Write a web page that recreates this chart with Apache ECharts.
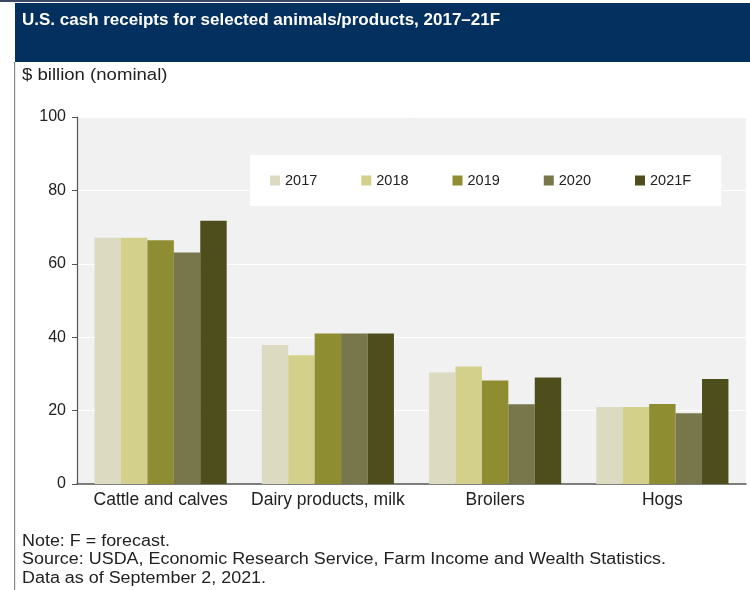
<!DOCTYPE html>
<html>
<head>
<meta charset="utf-8">
<script src="https://cdn.jsdelivr.net/npm/echarts@6/dist/echarts.min.js"></script>
<style>
  html, body { margin: 0; padding: 0; background: #fff; }
  #chart { width: 750px; height: 590px; }
</style>
</head>
<body>
<div id="chart"></div>
<script>
// Categories along the x axis
const categories = ['Cattle and calves', 'Dairy products, milk', 'Broilers', 'Hogs'];

// Cash receipts, $ billion (nominal), one array per year
const years = ['2017', '2018', '2019', '2020', '2021F'];
const v2017 = [67.1, 37.9, 30.4, 21.0];
const v2018 = [67.1, 35.1, 32.0, 21.0];
const v2019 = [66.4, 41.0, 28.2, 21.8];
const v2020 = [63.1, 41.0, 21.7, 19.3];
const v2021F = [71.7, 41.0, 29.0, 28.6];
const seriesValues = [v2017, v2018, v2019, v2020, v2021F];

const yTicks = [0, 20, 40, 60, 80, 100];
const colors = ['#dcdac0', '#d3d08c', '#8e8d32', '#77774b', '#4e4e1d'];

const FONT = '"Liberation Sans", Arial, sans-serif';

const chart = echarts.init(document.getElementById('chart'), null, { renderer: 'canvas' });

chart.setOption({
  backgroundColor: '#ffffff',
  animation: false,
  color: colors,
  graphic: [
    // thin strip along the very top
    { type: 'rect', shape: { x: 0, y: 0, width: 400, height: 2 }, style: { fill: '#3a4a63' }, silent: true },
    // header banner
    { type: 'rect', shape: { x: 15, y: 3, width: 735, height: 59 }, style: { fill: '#04305f' }, silent: true },
    // left frame line
    { type: 'rect', shape: { x: 14, y: 62, width: 1.2, height: 528 }, style: { fill: '#8a8a8a' }, silent: true },
    {
      type: 'text', x: 22, y: 12,
      style: { text: 'U.S. cash receipts for selected animals/products, 2017–21F', fill: '#ffffff',
               font: 'bold 17px ' + FONT, verticalAlign: 'top' }
    },
    {
      type: 'text', x: 22, y: 68, scaleX: 1.16,
      style: { text: '$ billion (nominal)', fill: '#222', font: '16px ' + FONT, verticalAlign: 'top' }
    },
    {
      type: 'text', x: 22, y: 532, scaleX: 1.12,
      style: {
        text: 'Note: F = forecast.\nSource: USDA, Economic Research Service, Farm Income and Wealth Statistics.\nData as of September 2, 2021.',
        fill: '#222', font: '16px ' + FONT, lineHeight: 18.5, verticalAlign: 'top'
      }
    }
  ],
  grid: {
    left: 77, right: 4, top: 117, bottom: 106,
    show: true, backgroundColor: '#f1f1f2', borderWidth: 0
  },
  legend: {
    data: years,
    left: 250, top: 155,
    backgroundColor: '#ffffff',
    padding: [18, 30, 18, 20],
    itemWidth: 10, itemHeight: 10, itemGap: 44,
    icon: 'rect',
    textStyle: { fontFamily: FONT, fontSize: 14.5, color: '#222' }
  },
  xAxis: {
    type: 'category',
    data: categories,
    axisLine: { show: true, lineStyle: { color: '#555', width: 1.5 } },
    axisTick: { show: false },
    axisLabel: { fontFamily: FONT, fontSize: 17.5, color: '#222', margin: 7, interval: 0 },
    splitLine: { show: false }
  },
  yAxis: {
    type: 'value',
    min: yTicks[0], max: yTicks[yTicks.length - 1], interval: 20,
    axisLine: { show: true, lineStyle: { color: '#555', width: 1.2 } },
    axisTick: { show: true, length: 5, lineStyle: { color: '#555' } },
    axisLabel: { fontFamily: FONT, fontSize: 16, color: '#222', margin: 11 },
    splitLine: { show: true, lineStyle: { color: '#ffffff', width: 1 } }
  },
  series: years.map((y, i) => ({
    name: y,
    type: 'bar',
    data: seriesValues[i],
    barGap: '0%',
    barCategoryGap: '21%',
    itemStyle: { color: colors[i] }
  }))
});
</script>
</body>
</html>
